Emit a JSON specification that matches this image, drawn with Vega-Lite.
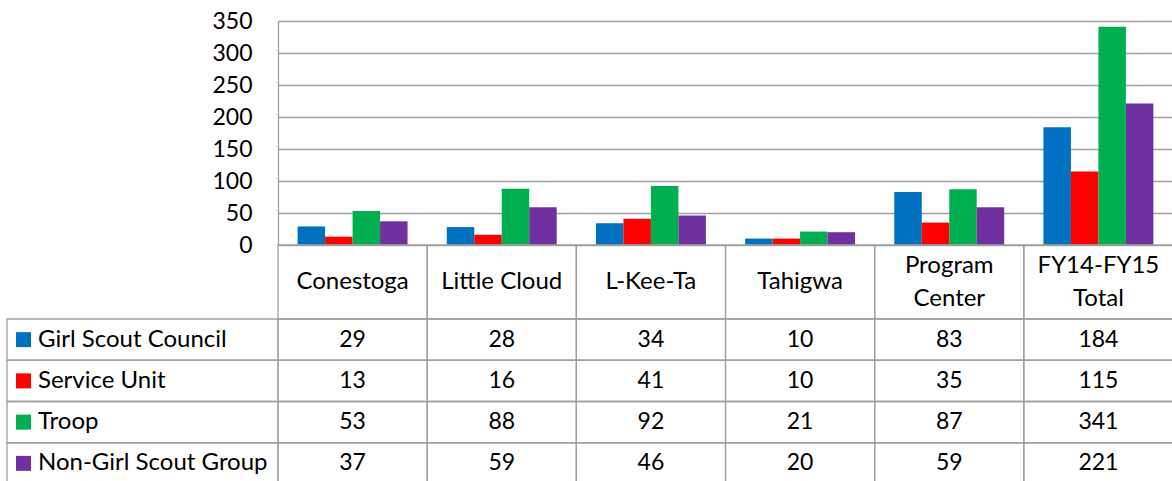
{
  "$schema": "https://vega.github.io/schema/vega-lite/v6.json",
  "padding": {"left": 6, "top": 10, "right": 0, "bottom": 0},
  "background": "white",
  "config": {
    "view": {"stroke": null},
    "font": "Lato",
    "text": {"font": "Lato", "fontSize": 23, "color": "black"}
  },
  "datasets": {
    "bars": [
      {"cat": "Conestoga", "series": "Girl Scout Council", "value": 29},
      {"cat": "Little Cloud", "series": "Girl Scout Council", "value": 28},
      {"cat": "L-Kee-Ta", "series": "Girl Scout Council", "value": 34},
      {"cat": "Tahigwa", "series": "Girl Scout Council", "value": 10},
      {"cat": "Program Center", "series": "Girl Scout Council", "value": 83},
      {"cat": "FY14-FY15 Total", "series": "Girl Scout Council", "value": 184},
      {"cat": "Conestoga", "series": "Service Unit", "value": 13},
      {"cat": "Little Cloud", "series": "Service Unit", "value": 16},
      {"cat": "L-Kee-Ta", "series": "Service Unit", "value": 41},
      {"cat": "Tahigwa", "series": "Service Unit", "value": 10},
      {"cat": "Program Center", "series": "Service Unit", "value": 35},
      {"cat": "FY14-FY15 Total", "series": "Service Unit", "value": 115},
      {"cat": "Conestoga", "series": "Troop", "value": 53},
      {"cat": "Little Cloud", "series": "Troop", "value": 88},
      {"cat": "L-Kee-Ta", "series": "Troop", "value": 92},
      {"cat": "Tahigwa", "series": "Troop", "value": 21},
      {"cat": "Program Center", "series": "Troop", "value": 87},
      {"cat": "FY14-FY15 Total", "series": "Troop", "value": 341},
      {"cat": "Conestoga", "series": "Non-Girl Scout Group", "value": 37},
      {"cat": "Little Cloud", "series": "Non-Girl Scout Group", "value": 59},
      {"cat": "L-Kee-Ta", "series": "Non-Girl Scout Group", "value": 46},
      {"cat": "Tahigwa", "series": "Non-Girl Scout Group", "value": 20},
      {"cat": "Program Center", "series": "Non-Girl Scout Group", "value": 59},
      {"cat": "FY14-FY15 Total", "series": "Non-Girl Scout Group", "value": 221}
    ],
    "cats": [
      {"cat": "Conestoga", "label": "Conestoga", "lines": 1},
      {"cat": "Little Cloud", "label": "Little Cloud", "lines": 1},
      {"cat": "L-Kee-Ta", "label": "L-Kee-Ta", "lines": 1},
      {"cat": "Tahigwa", "label": "Tahigwa", "lines": 1},
      {"cat": "Program Center", "label": "Program\nCenter", "lines": 2},
      {"cat": "FY14-FY15 Total", "label": "FY14-FY15\nTotal", "lines": 2}
    ],
    "series": [
      {"series": "Girl Scout Council"},
      {"series": "Service Unit"},
      {"series": "Troop"},
      {"series": "Non-Girl Scout Group"}
    ],
    "blank": [{"note": ""}]
  },
  "columns": 2,
  "spacing": 0,
  "bounds": "flush",
  "resolve": {"scale": {"x": "independent", "y": "independent", "color": "independent"}},
  "concat": [
    {
      "width": 271, "height": 224,
      "data": {"name": "blank"},
      "mark": {"type": "text"},
      "encoding": {"text": {"field": "note"}}
    },
    {
      "width": 895, "height": 224,
      "data": {"name": "bars"},
      "mark": {"type": "bar"},
      "encoding": {
        "x": {"field": "cat", "type": "nominal",
              "sort": ["Conestoga", "Little Cloud", "L-Kee-Ta", "Tahigwa", "Program Center", "FY14-FY15 Total"],
              "scale": {"paddingInner": 0.263, "paddingOuter": 0.1315},
              "axis": null},
        "xOffset": {"field": "series", "type": "nominal",
                    "sort": ["Girl Scout Council", "Service Unit", "Troop", "Non-Girl Scout Group"],
                    "scale": {"paddingInner": 0, "paddingOuter": 0}},
        "y": {"field": "value", "type": "quantitative",
              "scale": {"domain": [0, 350], "nice": false},
              "axis": {"title": null, "values": [0, 50, 100, 150, 200, 250, 300, 350],
                       "grid": true, "gridColor": "#A0A0A0", "gridWidth": 1.3,
                       "domainColor": "#A0A0A0", "domainWidth": 1.3,
                       "ticks": false, "labelPadding": 26,
                       "labelFont": "Lato", "labelFontSize": 23, "labelColor": "black"}},
        "color": {"field": "series", "type": "nominal",
                  "scale": {"domain": ["Girl Scout Council", "Service Unit", "Troop", "Non-Girl Scout Group"],
                            "range": ["#0070C0", "#FF0000", "#00B050", "#7030A0"]},
                  "legend": null}
      }
    },
    {
      "width": 271, "height": 74,
      "data": {"name": "blank"},
      "mark": {"type": "text"},
      "encoding": {"text": {"field": "note"}}
    },
    {
      "width": 895, "height": 74,
      "data": {"name": "cats"},
      "encoding": {
        "x": {"field": "cat", "type": "nominal",
              "sort": ["Conestoga", "Little Cloud", "L-Kee-Ta", "Tahigwa", "Program Center", "FY14-FY15 Total"],
              "scale": {"paddingInner": 0, "paddingOuter": 0},
              "axis": null}
      },
      "layer": [
        {
          "mark": {"type": "rect", "fill": "white", "fillOpacity": 0, "stroke": "#A0A0A0", "strokeWidth": 1.3},
          "encoding": {"y": {"value": 0}, "y2": {"value": "height"}}
        },
        {
          "transform": [{"filter": "datum.lines == 1"}],
          "mark": {"type": "text", "align": "center", "baseline": "middle", "fontSize": 24},
          "encoding": {"text": {"field": "label"}}
        },
        {
          "transform": [{"filter": "datum.lines == 2"}],
          "mark": {"type": "text", "lineBreak": "\n", "lineHeight": 33, "align": "center", "baseline": "middle", "dy": -16.5, "fontSize": 24},
          "encoding": {"text": {"field": "label"}}
        }
      ]
    },
    {
      "width": 271, "height": 165,
      "data": {"name": "series"},
      "encoding": {
        "y": {"field": "series", "type": "nominal",
              "sort": ["Girl Scout Council", "Service Unit", "Troop", "Non-Girl Scout Group"],
              "scale": {"paddingInner": 0, "paddingOuter": 0},
              "axis": null}
      },
      "layer": [
        {
          "mark": {"type": "rect", "fill": "white", "fillOpacity": 0, "stroke": "#A0A0A0", "strokeWidth": 1.3},
          "encoding": {"x": {"value": 0}, "x2": {"value": "width"}}
        },
        {
          "mark": {"type": "point", "shape": "square", "filled": true, "size": 225, "opacity": 1},
          "encoding": {
            "x": {"value": 16.5},
            "color": {"field": "series", "type": "nominal",
                      "scale": {"domain": ["Girl Scout Council", "Service Unit", "Troop", "Non-Girl Scout Group"],
                                "range": ["#0070C0", "#FF0000", "#00B050", "#7030A0"]},
                      "legend": null}
          }
        },
        {
          "mark": {"type": "text", "align": "left", "baseline": "middle", "fontSize": 24},
          "encoding": {"x": {"value": 31}, "text": {"field": "series"}}
        }
      ]
    },
    {
      "width": 895, "height": 165,
      "data": {"name": "bars"},
      "encoding": {
        "x": {"field": "cat", "type": "nominal",
              "sort": ["Conestoga", "Little Cloud", "L-Kee-Ta", "Tahigwa", "Program Center", "FY14-FY15 Total"],
              "scale": {"paddingInner": 0, "paddingOuter": 0},
              "axis": null},
        "y": {"field": "series", "type": "nominal",
              "sort": ["Girl Scout Council", "Service Unit", "Troop", "Non-Girl Scout Group"],
              "scale": {"paddingInner": 0, "paddingOuter": 0},
              "axis": null}
      },
      "layer": [
        {
          "mark": {"type": "rect", "fill": "white", "fillOpacity": 0, "stroke": "#A0A0A0", "strokeWidth": 1.3}
        },
        {
          "mark": {"type": "text", "align": "center", "baseline": "middle"},
          "encoding": {"text": {"field": "value", "type": "quantitative"}}
        }
      ]
    }
  ]
}
